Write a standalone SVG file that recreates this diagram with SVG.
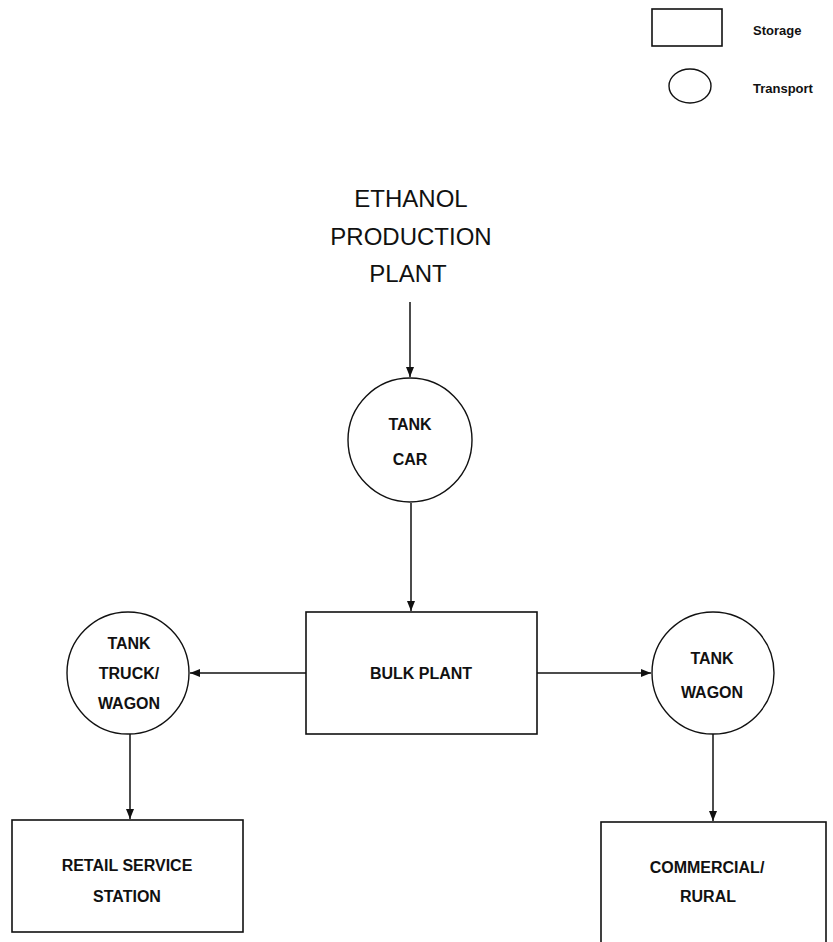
<svg xmlns="http://www.w3.org/2000/svg" width="833" height="942" viewBox="0 0 833 942">
  <style>
    .box { fill: none; stroke: #111; stroke-width: 1.6; }
    .ring { fill: none; stroke: #111; stroke-width: 1.4; }
    .edge { fill: none; stroke: #111; stroke-width: 1.5; marker-end: url(#tip); }
    .lbl { font-family: "Liberation Sans", Arial, sans-serif; font-size: 16px; font-weight: bold; fill: #111; text-anchor: middle; }
    .title { font-family: "Liberation Sans", Arial, sans-serif; font-size: 24px; fill: #111; text-anchor: middle; }
    .key { font-family: "Liberation Sans", Arial, sans-serif; font-size: 13px; font-weight: bold; fill: #111; }
  </style>
  <defs>
    <marker id="tip" viewBox="0 0 10 8" refX="10" refY="4" markerWidth="10" markerHeight="8" markerUnits="userSpaceOnUse" orient="auto">
      <path d="M0,0 L10,4 L0,8 Z" fill="#111"/>
    </marker>
  </defs>
  <rect width="833" height="942" fill="#fff"/>

  <!-- legend -->
  <g id="legend">
    <rect class="box" x="652" y="9" width="70" height="37"/>
    <text class="key" x="753" y="35">Storage</text>
    <ellipse class="ring" cx="690" cy="86" rx="21" ry="17"/>
    <text class="key" x="753" y="93">Transport</text>
  </g>

  <!-- source -->
  <g id="ethanol-plant">
    <text class="title" x="411" y="207">ETHANOL</text>
    <text class="title" x="411" y="245">PRODUCTION</text>
    <text class="title" x="408" y="282">PLANT</text>
  </g>

  <g id="tank-car">
    <circle class="ring" cx="410" cy="440" r="62"/>
    <text class="lbl" x="410" y="430">TANK</text>
    <text class="lbl" x="410" y="465">CAR</text>
  </g>

  <g id="bulk-plant">
    <rect class="box" x="306" y="612" width="231" height="122"/>
    <text class="lbl" x="421" y="679">BULK PLANT</text>
  </g>

  <g id="tank-truck-wagon">
    <circle class="ring" cx="128" cy="673" r="61"/>
    <text class="lbl" x="129" y="649">TANK</text>
    <text class="lbl" x="129" y="679">TRUCK/</text>
    <text class="lbl" x="129" y="709">WAGON</text>
  </g>

  <g id="tank-wagon">
    <circle class="ring" cx="713" cy="673" r="61"/>
    <text class="lbl" x="712" y="664">TANK</text>
    <text class="lbl" x="712" y="698">WAGON</text>
  </g>

  <g id="retail-service-station">
    <rect class="box" x="12" y="820" width="231" height="112"/>
    <text class="lbl" x="127" y="871">RETAIL SERVICE</text>
    <text class="lbl" x="127" y="902">STATION</text>
  </g>

  <g id="commercial-rural">
    <rect class="box" x="601" y="822" width="225" height="125"/>
    <text class="lbl" x="707" y="873">COMMERCIAL/</text>
    <text class="lbl" x="708" y="902">RURAL</text>
  </g>

  <!-- flows -->
  <g id="connectors">
    <line class="edge" x1="410" y1="302" x2="410" y2="377"/>
    <line class="edge" x1="411" y1="503" x2="411" y2="611"/>
    <line class="edge" x1="306" y1="673" x2="190" y2="673"/>
    <line class="edge" x1="537" y1="673" x2="651" y2="673"/>
    <line class="edge" x1="130" y1="734" x2="130" y2="819"/>
    <line class="edge" x1="713" y1="734" x2="713" y2="821"/>
  </g>
</svg>
